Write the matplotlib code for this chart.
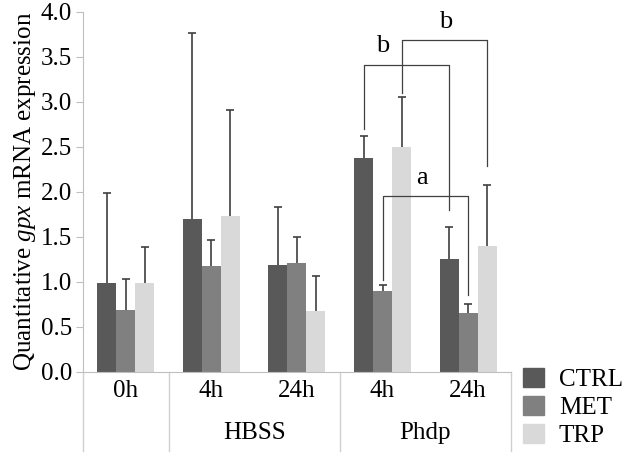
import numpy as np
import matplotlib
matplotlib.use("Agg")
import matplotlib.pyplot as plt
from matplotlib.patches import Patch

plt.rcParams['font.family'] = ['Liberation Serif', 'DejaVu Serif']
plt.rcParams['mathtext.fontset'] = 'custom'
plt.rcParams['mathtext.rm'] = 'Liberation Serif'
plt.rcParams['mathtext.it'] = 'Liberation Serif:italic'

# data
categories = ["0h", "4h", "24h", "4h", "24h"]
groups = ["HBSS", "Phdp"]
series = ["CTRL", "MET", "TRP"]
ctrl = [0.99, 1.70, 1.19, 2.37, 1.25]
met = [0.68, 1.17, 1.21, 0.90, 0.65]
trp = [0.98, 1.73, 0.67, 2.50, 1.40]
ctrl_err = [1.00, 2.06, 0.64, 0.25, 0.36]
met_err = [0.35, 0.29, 0.29, 0.06, 0.10]
trp_err = [0.41, 1.18, 0.39, 0.55, 0.67]
colors = ["#595959", "#808080", "#d9d9d9"]

# significance brackets:
# (series, category left, series, category right, left end, top, right end, label, label pos)
brackets = [
    (0, 3, 0, 4, 2.70, 3.41, 1.80, "b", 0.22),
    (2, 3, 2, 4, 3.10, 3.68, 2.28, "b", 0.51),
    (1, 3, 1, 4, 1.02, 1.95, 0.85, "a", 0.46),
]

fig = plt.figure(figsize=(6.22, 4.53), dpi=100)
ax = fig.add_axes([0.1334, 0.1795, 0.688, 0.795])

x = np.arange(len(categories))
w = 0.222
vals = [ctrl, met, trp]
errs = [ctrl_err, met_err, trp_err]
offsets = [-w, 0, w]
for i in range(3):
    ax.bar(x + offsets[i], vals[i], width=w, color=colors[i], label=series[i], zorder=2)
    eb = ax.errorbar(x + offsets[i], vals[i], yerr=[np.zeros(len(x)), errs[i]], fmt='none',
                     ecolor="#404040", elinewidth=1.2, capsize=3, capthick=1.2, zorder=3)
    # only keep the upper caps
    for cl in eb[1]:
        if np.allclose(cl.get_ydata(), vals[i]):
            cl.set_visible(False)

for s1, c1, s2, c2, y1, ytop, y2, lab, pos in brackets:
    xa = c1 + offsets[s1]
    xb = c2 + offsets[s2]
    ax.plot([xa, xa, xb, xb], [y1, ytop, ytop, y2], color="#404040", lw=0.9, zorder=4)
    ax.text(xa + (xb - xa) * pos, ytop + 0.08, lab, ha='center', va='bottom', fontsize=19)

ax.set_xlim(-0.5, 4.5)
ax.set_ylim(0, 4.0)
ax.set_yticks(np.arange(0, 4.01, 0.5))
ax.set_yticklabels([f"{v:.1f}" for v in np.arange(0, 4.01, 0.5)])
ax.set_xticks(x)
ax.set_xticklabels(categories)
ax.tick_params(axis='x', length=0, labelsize=18, pad=6)
ax.tick_params(axis='y', length=5, color="#bfbfbf", labelsize=18, pad=3)

for sp in ['top', 'right']:
    ax.spines[sp].set_visible(False)
ax.spines['left'].set_color("#bfbfbf")
ax.spines['bottom'].set_color("#bfbfbf")

# group separators below the axis
trans = ax.get_xaxis_transform()
for xs in [-0.5, 0.5, 2.5, 4.5]:
    ax.plot([xs, xs], [0, -0.22], color="#d0d0d0", lw=1.0, transform=trans, clip_on=False)
ax.text(1.5, -0.17, groups[0], transform=trans, ha='center', va='center', fontsize=18)
ax.text(3.5, -0.17, groups[1], transform=trans, ha='center', va='center', fontsize=18)

ax.set_ylabel(r"Quantitative $\mathit{gpx}$ mRNA expression", fontsize=18, labelpad=2)

handles = [Patch(color=c) for c in colors]
fig.legend(handles, series, loc='lower left', bbox_to_anchor=(0.82, -0.015),
           frameon=False, fontsize=18, handlelength=0.85, handleheight=0.8,
           handletextpad=0.6, labelspacing=0.2, borderpad=0.0)

fig.savefig("out.png", dpi=100)
